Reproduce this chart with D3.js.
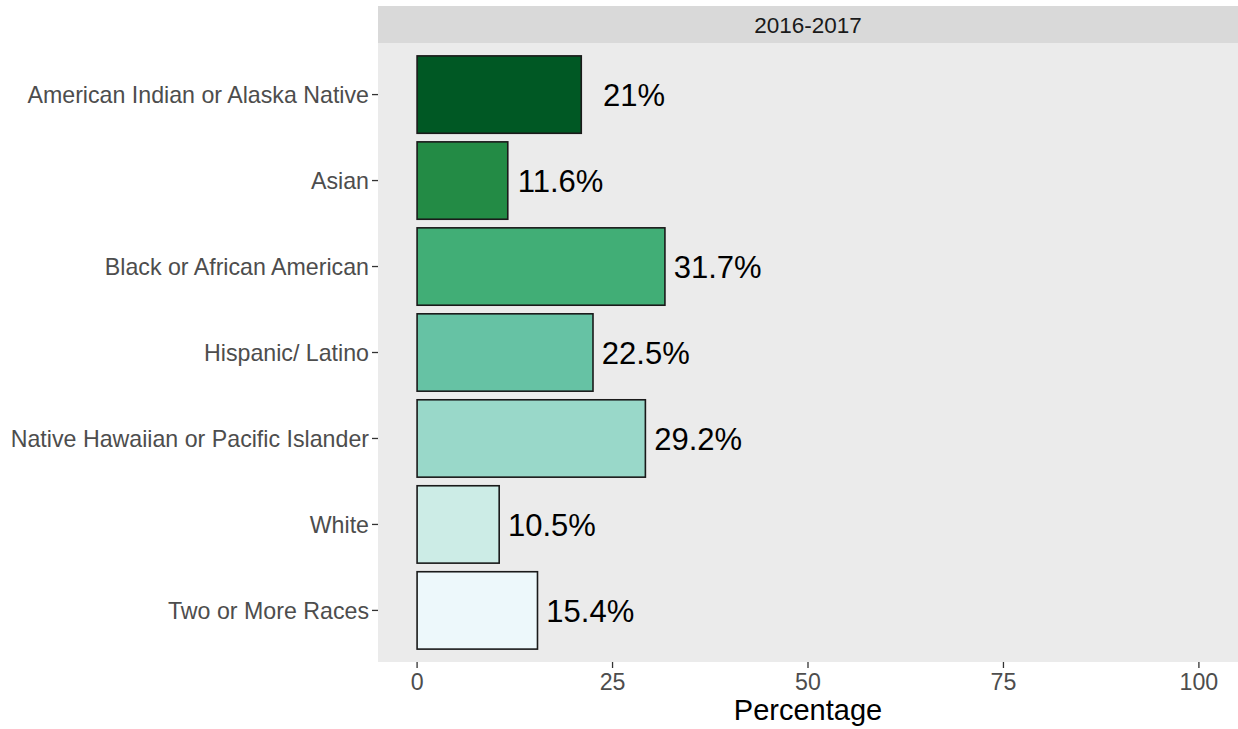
<!DOCTYPE html>
<html><head><meta charset="utf-8">
<script src="https://cdn.jsdelivr.net/npm/d3@7"></script>
<style>body{margin:0;background:#fff;} svg{display:block;font-family:"Liberation Sans",Arial,sans-serif;}</style>
</head><body>
<svg id="c" width="1238" height="729"></svg>
<script>
const categories = ["American Indian or Alaska Native","Asian","Black or African American","Hispanic/ Latino","Native Hawaiian or Pacific Islander","White","Two or More Races"];
const values = [21, 11.6, 31.7, 22.5, 29.2, 10.5, 15.4];
const labels = ["21%","11.6%","31.7%","22.5%","29.2%","10.5%","15.4%"];
const colors = ["#005824","#238b45","#41ae76","#66c2a4","#99d8c9","#ccece6","#edf8fb"];
const xTicks = [0,25,50,75,100];
const facet = "2016-2017";

const svg = d3.select("#c");
const L = 378, R = 1238, T = 43, B = 662;
const x = d3.scaleLinear().domain([-5,105]).range([L,R]);
const yc = d3.scaleLinear().domain([0.4, 7.6]).range([T,B]);
const bw = (yc(1.45)-yc(0.55));

svg.append("rect").attr("x",L).attr("y",6).attr("width",R-L).attr("height",T-6).attr("fill","#d9d9d9");
svg.append("text").attr("x",(L+R)/2).attr("y",25).attr("dy","0.36em").attr("text-anchor","middle")
  .attr("font-size",22.5).attr("fill","#1a1a1a").text(facet);
svg.append("rect").attr("x",L).attr("y",T).attr("width",R-L).attr("height",B-T).attr("fill","#ebebeb");

svg.selectAll(".bar").data(values).enter().append("rect")
  .attr("x",x(0)).attr("y",(d,i)=>yc(i+1)-bw/2).attr("width",d=>x(d)-x(0)).attr("height",bw)
  .attr("fill",(d,i)=>colors[i]).attr("stroke","#1a1a1a").attr("stroke-width",1.6);

svg.selectAll(".lab").data(values).enter().append("text")
  .attr("x",d=>x(d+6.75)).attr("y",(d,i)=>yc(i+1)).attr("dy","0.36em").attr("text-anchor","middle")
  .attr("font-size",31).attr("fill","#000").text((d,i)=>labels[i]);

const yg = svg.append("g");
categories.forEach((c,i)=>{
  yg.append("line").attr("x1",L-6).attr("x2",L).attr("y1",yc(i+1)).attr("y2",yc(i+1)).attr("stroke","#333").attr("stroke-width",1.3);
  yg.append("text").attr("x",L-9).attr("y",yc(i+1)).attr("dy","0.36em").attr("text-anchor","end")
    .attr("font-size",23.2).attr("fill","#4d4d4d").text(c);
});
xTicks.forEach(t=>{
  svg.append("line").attr("x1",x(t)).attr("x2",x(t)).attr("y1",B).attr("y2",B+6).attr("stroke","#333").attr("stroke-width",1.3);
  svg.append("text").attr("x",x(t)).attr("y",682).attr("dy","0.36em").attr("text-anchor","middle")
    .attr("font-size",23.2).attr("fill","#4d4d4d").text(t);
});
svg.append("text").attr("x",(L+R)/2).attr("y",710).attr("dy","0.36em").attr("text-anchor","middle")
  .attr("font-size",29).attr("fill","#000").text("Percentage");
</script>
</body></html>
